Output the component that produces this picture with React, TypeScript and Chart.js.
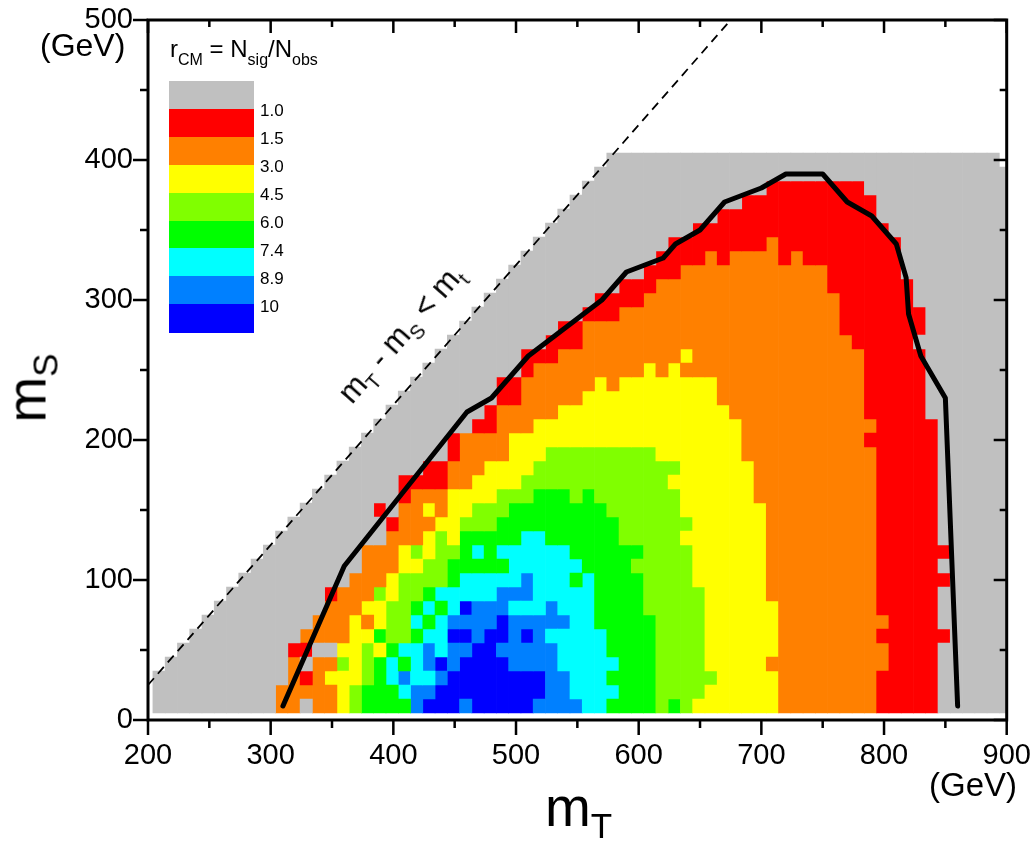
import React, { useEffect, useRef } from "react";
import { Chart, registerables } from "chart.js";

Chart.register(...registerables);

// ---- grid coordinates (cell centres, GeV) ----
const MT_CENTERS = [
  209, 219, 229, 239, 249, 259, 269, 279, 289, 299,
  309, 319, 329, 339, 349, 359, 369, 379, 389, 399,
  409, 419, 429, 439, 449, 459, 469, 479, 489, 499,
  509, 519, 529, 539, 549, 559, 569, 579, 589, 599,
  609, 619, 629, 639, 649, 659, 669, 679, 689, 699,
  709, 719, 729, 739, 749, 759, 769, 779, 789, 799,
  809, 819, 829, 839, 849, 859, 869, 879, 889, 899,
];
const MS_CENTERS = [
  10, 20, 30, 40, 50, 60, 70, 80, 90, 100,
  110, 120, 130, 140, 150, 160, 170, 180, 190, 200,
  210, 220, 230, 240, 250, 260, 270, 280, 290, 300,
  310, 320, 330, 340, 350, 360, 370, 380, 390, 400,
];

// ---- colour classes of r_CM ----
const CLASS_CODES = ["G", "R", "O", "Y", "L", "N", "C", "A", "B"];
const CLASS_COLORS = [
  "#c0c0c0", "#ff0000", "#ff8000", "#ffff00", "#80ff00",
  "#00ff00", "#00ffff", "#0080ff", "#0000ff",
];
const LEGEND_BOUNDS = ["1.0", "1.5", "3.0", "4.5", "6.0", "7.4", "8.9", "10"];

// ---- cells: one run-length row per m_S (bottom to top), columns follow MT_CENTERS ----
const CELL_ROWS = [
  "G10 O2 G1 O2 Y1 L1 N4 A1 B3 A1 B5 A4 C2 N4 L1 N1 L1 Y7 O8 R5 G6",
  "G10 O5 Y1 L1 N3 C1 A2 B9 A2 C4 N3 L4 Y6 O8 R5 G6",
  "G11 O1 R1 O1 Y3 L1 N1 C1 A1 C2 A1 B8 A2 C3 N4 L5 Y5 O8 R5 G6",
  ".1 G10 O1 G1 O2 L1 Y1 L1 N1 C1 N1 C1 A1 B1 A1 B4 A4 C5 N3 L4 Y5 O10 R4 G6",
  ".2 G9 R2 G2 Y2 L1 Y1 N1 C2 A1 C1 A2 B2 A5 C4 N4 L4 Y6 O9 R4 G6",
  ".3 G9 O4 Y2 N1 L2 N1 C2 B2 A1 B2 A1 B1 A1 C5 N4 L4 Y6 O8 R6 G5",
  ".4 G9 O3 Y1 O1 Y1 L2 C1 N1 C1 A4 B1 A5 C2 N5 L4 Y6 O9 R4 G6",
  ".5 G9 O3 Y2 L2 N1 C1 N1 C1 B1 A3 C3 A1 C3 N4 L5 Y6 O8 R5 G6",
  ".6 G8 R1 O3 L1 Y1 L2 N1 C5 A3 C5 N4 L5 Y5 O9 R5 G6",
  ".7 G9 O3 Y1 L4 N1 C5 A1 C3 N1 C1 N4 L4 Y6 O9 R6 G5",
  ".8 G9 O3 Y2 L2 N5 C6 N4 L5 Y6 O9 R5 G6",
  ".9 G8 O3 Y1 L1 Y1 L2 N1 C1 N1 C6 N6 L4 Y6 O9 R6 G5",
  ".10 G9 O3 Y1 L1 Y1 N5 C2 N6 L5 Y7 O9 R5 G6",
  ".11 G8 R1 O3 Y2 L3 N10 L6 Y6 O9 R5 G6",
  ".12 G6 R1 G1 O2 Y1 O1 Y2 L3 N8 L6 Y7 O9 R5 G6",
  ".13 G7 R1 O3 Y4 L3 N3 L1 N1 L7 Y6 O10 R5 G6",
  ".14 G6 R4 O2 Y4 L12 Y7 O10 R5 G6",
  ".15 G7 R2 O3 Y4 L12 Y6 O10 R5 G6",
  ".16 G8 R1 O4 Y3 L9 Y7 O11 R5 G6",
  ".17 G7 R1 O4 Y19 O10 R6 G6",
  ".18 G8 R2 O3 Y17 O11 R5 G6",
  ".19 G8 R1 O5 Y14 O11 R5 G7",
  ".20 G8 R2 O5 Y11 O12 R5 G7",
  ".21 G7 R2 O6 Y1 O1 Y8 O12 R5 G7",
  ".22 G8 R1 O9 Y1 O1 Y1 O15 R5 G7",
  ".23 G7 R3 O10 Y1 O14 R5 G7",
  ".24 G8 R3 O22 R5 G8",
  ".25 G8 R2 O21 R7 G7",
  ".26 G9 R3 O18 R7 G7",
  ".27 G9 R4 O16 R6 G8",
  ".28 G10 R3 O14 R7 G8",
  ".29 G11 R3 O12 R6 G9",
  ".30 G11 R4 O1 R1 O4 R1 O1 R8 G9",
  ".31 G11 R8 O1 R10 G9",
  ".32 G12 R16 G10",
  ".33 G13 R13 G11",
  ".34 G14 R11 G11",
  ".35 G15 R8 G12",
  ".36 G34",
  ".37 G32 .1",
];

// ---- r_CM = 1 contour (black solid line) ----
const BOUNDARY_MT = [310, 360, 460, 480, 510, 570, 590, 620, 630, 650, 670, 700, 720, 750, 770, 790, 810, 818, 820, 830, 850, 860];
const BOUNDARY_MS = [10, 110, 220, 230, 260, 300, 320, 330, 340, 350, 370, 380, 390, 390, 370, 360, 340, 316, 290, 260, 230, 10];

// ---- kinematic limit m_T - m_S = m_t (dashed) ----
const LIMIT_MT = [200, 675];
const LIMIT_MS = [25, 500];

// ---- axis ticks ----
const X_MAJOR = [200, 300, 400, 500, 600, 700, 800, 900];
const X_MINOR = [250, 350, 450, 550, 650, 750, 850];
const Y_MAJOR = [0, 100, 200, 300, 400, 500];
const Y_MINOR = [50, 150, 250, 350, 450];

const FONT = "'Liberation Sans', Arial, Helvetica, sans-serif";

function expandRow(row: string): string[] {
  const out: string[] = [];
  for (const tok of row.trim().split(/\s+/)) {
    const code = tok[0];
    const n = parseInt(tok.slice(1), 10);
    for (let k = 0; k < n; k++) out.push(code);
  }
  return out;
}

function buildBarDatasets() {
  const grid = CELL_ROWS.map(expandRow);
  const half = (MS_CENTERS[1] - MS_CENTERS[0]) / 2;
  const perClass: { x: number; y: [number, number] }[][] = CLASS_CODES.map(() => []);
  for (let i = 0; i < MT_CENTERS.length; i++) {
    let j = 0;
    while (j < MS_CENTERS.length) {
      const code = grid[j][i];
      if (!code || code === ".") {
        j++;
        continue;
      }
      let k = j;
      while (k + 1 < MS_CENTERS.length && grid[k + 1][i] === code) k++;
      const c = CLASS_CODES.indexOf(code);
      perClass[c].push({ x: MT_CENTERS[i], y: [MS_CENTERS[j] - half, MS_CENTERS[k] + half] });
      j = k + 1;
    }
  }
  return perClass.map((data, c) => ({
    type: "bar" as const,
    label: CLASS_CODES[c],
    data,
    backgroundColor: CLASS_COLORS[c],
    borderWidth: 0,
    grouped: false,
    barPercentage: 1,
    categoryPercentage: 1,
    order: 2,
  }));
}

const frameTicks = {
  id: "frameTicks",
  afterDatasetsDraw(chart: any) {
    const { ctx, chartArea: a } = chart;
    const xs = chart.scales.x;
    const ys = chart.scales.y;
    ctx.save();
    ctx.strokeStyle = "#000";
    ctx.lineCap = "butt";
    ctx.lineWidth = 2.5;
    ctx.beginPath();
    const xm = (vals: number[], outLen: number, inLen: number) => {
      for (const v of vals) {
        const p = xs.getPixelForValue(v);
        ctx.moveTo(p, a.bottom);
        ctx.lineTo(p, a.bottom + outLen);
        ctx.moveTo(p, a.top);
        ctx.lineTo(p, a.top + inLen);
      }
    };
    const ym = (vals: number[], outLen: number, inLen: number) => {
      for (const v of vals) {
        const p = ys.getPixelForValue(v);
        ctx.moveTo(a.left, p);
        ctx.lineTo(a.left - outLen, p);
        ctx.moveTo(a.right, p);
        ctx.lineTo(a.right - inLen, p);
      }
    };
    xm(X_MAJOR, 15, 13);
    xm(X_MINOR, 8, 7);
    ym(Y_MAJOR, 15, 13);
    ym(Y_MINOR, 8, 7);
    ctx.stroke();
    ctx.lineWidth = 3;
    ctx.strokeRect(a.left, a.top, a.right - a.left, a.bottom - a.top);
    ctx.restore();
  },
};

const sub = (text: string, size: number, drop: number) => (
  <span style={{ fontSize: size, position: "relative", top: drop }}>{text}</span>
);

const zeroPadding = (s: any) => {
  s.paddingTop = 0;
  s.paddingBottom = 0;
  s.paddingLeft = 0;
  s.paddingRight = 0;
};

export default function App() {
  const canvasRef = useRef<HTMLCanvasElement | null>(null);

  useEffect(() => {
    document.body.style.margin = "0";
    const canvas = canvasRef.current;
    if (!canvas) return;
    const bars = buildBarDatasets();
    const chart = new Chart(canvas, {
      type: "bar",
      data: {
        datasets: [
          ...bars,
          {
            type: "line",
            label: "boundary",
            data: BOUNDARY_MT.map((x, k) => ({ x, y: BOUNDARY_MS[k] })),
            borderColor: "#000",
            borderWidth: 5,
            pointRadius: 0,
            fill: false,
            tension: 0,
            borderJoinStyle: "round",
            borderCapStyle: "round",
            order: 0,
          },
          {
            type: "line",
            label: "limit",
            data: LIMIT_MT.map((x, k) => ({ x, y: LIMIT_MS[k] })),
            borderColor: "#000",
            borderWidth: 1.8,
            borderDash: [9, 6],
            pointRadius: 0,
            fill: false,
            order: 1,
          },
        ] as any,
      },
      options: {
        responsive: false,
        animation: false,
        events: [],
        layout: { padding: { left: 0, right: 26.3, top: 20, bottom: 0 } },
        plugins: { legend: { display: false }, tooltip: { enabled: false } },
        scales: {
          x: {
            type: "linear",
            min: 200,
            max: 900,
            offset: false,
            grid: { display: false, drawTicks: false, offset: false },
            border: { display: false },
            ticks: {
              stepSize: 100,
              color: "#000",
              padding: 19,
              maxRotation: 0,
              font: { family: FONT, size: 29 },
            },
            afterFit: (s: any) => {
              s.height = 122;
              zeroPadding(s);
            },
          },
          y: {
            type: "linear",
            min: 0,
            max: 500,
            grid: { display: false, drawTicks: false },
            border: { display: false },
            ticks: {
              stepSize: 100,
              color: "#000",
              padding: 15,
              font: { family: FONT, size: 29 },
            },
            afterFit: (s: any) => {
              s.width = 148;
              zeroPadding(s);
            },
          },
        },
      } as any,
      plugins: [frameTicks],
    });
    return () => chart.destroy();
  }, []);

  const boxTop = 81;
  const boxH = 27.9;

  return (
    <div style={{ position: "relative", width: 1033, height: 842, fontFamily: FONT, color: "#000", overflow: "hidden", background: "#fff" }}>
      <canvas ref={canvasRef} width={1033} height={842} style={{ display: "block", width: 1033, height: 842 }} />

      {/* legend */}
      <div style={{ position: "absolute", left: 170, top: 37, fontSize: 24, lineHeight: "23px", whiteSpace: "nowrap" }}>
        r{sub("CM", 16, 8)} = N{sub("sig", 16, 8)}/N{sub("obs", 16, 8)}
      </div>
      {CLASS_COLORS.map((c, k) => (
        <div
          key={c}
          style={{ position: "absolute", left: 169, top: boxTop + k * boxH, width: 85, height: boxH + 0.5, background: c }}
        />
      ))}
      {LEGEND_BOUNDS.map((t, k) => (
        <div
          key={t}
          style={{ position: "absolute", left: 260, top: boxTop + (k + 1) * boxH + 2.5 - 10, fontSize: 17, lineHeight: "20px", whiteSpace: "nowrap" }}
        >
          {t}
        </div>
      ))}

      {/* axis units */}
      <div style={{ position: "absolute", left: 40, top: 29, fontSize: 32, lineHeight: "33px", whiteSpace: "nowrap" }}>(GeV)</div>
      <div style={{ position: "absolute", left: 929, top: 768, fontSize: 33, lineHeight: "34px", whiteSpace: "nowrap" }}>(GeV)</div>

      {/* axis titles */}
      <div style={{ position: "absolute", left: 545, top: 780, fontSize: 55, lineHeight: "54px", whiteSpace: "nowrap" }}>
        m{sub("T", 35, 12)}
      </div>
      <div
        style={{
          position: "absolute",
          left: 30,
          top: 388,
          fontSize: 55,
          lineHeight: "54px",
          whiteSpace: "nowrap",
          transform: "translate(-50%, -50%) rotate(-90deg)",
        }}
      >
        m{sub("S", 35, 12)}
      </div>

      {/* kinematic limit label */}
      <div
        style={{
          position: "absolute",
          left: 402,
          top: 335,
          fontSize: 31,
          lineHeight: "30px",
          whiteSpace: "nowrap",
          transform: "translate(-50%, -50%) rotate(-48.8deg)",
        }}
      >
        m{sub("T", 20, 8)} - m{sub("S", 20, 8)} &lt; m{sub("t", 20, 8)}
      </div>
    </div>
  );
}
